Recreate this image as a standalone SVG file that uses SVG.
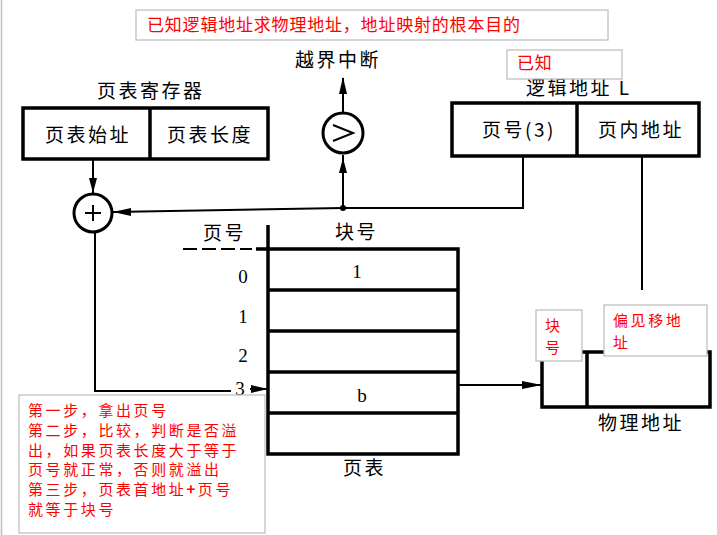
<svg xmlns="http://www.w3.org/2000/svg" width="717" height="535" viewBox="0 0 717 535">
<defs>
<style>
.bg{fill:#fff}
.ln{stroke:#000;stroke-width:2;fill:none}
.thk{stroke:#000;stroke-width:3.5;fill:none}
.box{stroke:#000;stroke-width:3.5;fill:#fff}
.lbl{font-family:"Noto Sans CJK SC","Noto Sans",sans-serif;font-size:19px;fill:#000;letter-spacing:2.5px}
.num{font-family:"Liberation Serif",serif;font-size:19px;fill:#000;text-anchor:middle}
.note{fill:#fff;stroke:#c0c0c0;stroke-width:1.3}
.red{font-family:"Noto Sans CJK SC","Noto Sans",sans-serif;font-size:17px;fill:#f00;letter-spacing:0.8px}
.step{font-family:"Noto Sans CJK SC","Noto Sans",sans-serif;font-size:15px;fill:#f00;letter-spacing:2.6px}
.ah{fill:#000}
</style>
</defs>
<rect class="bg" x="0" y="0" width="717" height="535"/>
<line x1="1.5" y1="0" x2="1.5" y2="535" stroke="#c0c0c0" stroke-width="1.5"/>

<g id="connectors">
  <line class="ln" x1="93" y1="159" x2="93" y2="193"/>
  <polygon class="ah" points="89,178 97,178 93,193"/>
  <polyline class="ln" points="523,156 523,208 343,208 113,212"/>
  <polygon class="ah" points="113,212 131,208 131,216"/>
  <circle cx="343" cy="208" r="3" class="ah"/>
  <line class="ln" x1="343" y1="208" x2="343" y2="155"/>
  <polygon class="ah" points="339,173 347,173 343,158"/>
  <line class="ln" x1="343" y1="112" x2="343" y2="78"/>
  <polygon class="ah" points="339,94 347,94 343,77"/>
  <polyline class="ln" points="95,233 95,391 231,391"/>
  <line class="ln" x1="250" y1="389" x2="268" y2="389"/>
  <polygon class="ah" points="268,389 251,385 251,393"/>
  <line class="ln" x1="458" y1="385" x2="542" y2="385"/>
  <polygon class="ah" points="542,385 522,381 522,389"/>
  <line class="ln" x1="642" y1="156" x2="642" y2="290"/>
</g>

<g id="title-note">
  <rect class="note" x="136" y="10" width="472" height="30"/>
  <text class="red" x="147" y="31">已知逻辑地址求物理地址，地址映射的根本目的</text>
</g>

<g id="page-table-register">
  <text class="lbl" x="97" y="98">页表寄存器</text>
  <rect class="box" x="23" y="108" width="245" height="51"/>
  <line class="thk" x1="150" y1="108" x2="150" y2="159"/>
  <text class="lbl" x="45" y="142">页表始址</text>
  <text class="lbl" x="167" y="142">页表长度</text>
</g>

<g id="adder">
  <circle cx="93" cy="213" r="19" fill="#fff" stroke="#000" stroke-width="3"/>
  <line class="ln" x1="85" y1="213" x2="101" y2="213"/>
  <line class="ln" x1="93" y1="205" x2="93" y2="221"/>
</g>

<g id="comparator">
  <text class="lbl" x="295" y="67">越界中断</text>
  <circle cx="343" cy="133" r="20" fill="#fff" stroke="#000" stroke-width="3"/>
  <polyline class="ln" points="333,125 353,133 333,141" stroke-width="2.5"/>
</g>

<g id="logical-address">
  <text class="lbl" x="526" y="95">逻辑地址 L</text>
  <rect class="box" x="452" y="103" width="247" height="53"/>
  <line class="thk" x1="577" y1="103" x2="577" y2="156"/>
  <text class="lbl" x="482" y="137" letter-spacing="0">页号(3)</text>
  <text class="lbl" x="598" y="137">页内地址</text>
</g>

<g id="known-note">
  <rect class="note" x="507" y="50" width="115" height="29"/>
  <text class="red" x="517" y="69" font-size="16">已知</text>
</g>

<g id="page-table">
  <text class="lbl" x="203" y="240">页号</text>
  <text class="lbl" x="335" y="239" letter-spacing="5">块号</text>
  <line class="ln" x1="183" y1="249" x2="252" y2="249" stroke-dasharray="14,5"/>
  <line class="thk" x1="256" y1="249" x2="268" y2="249"/>
  <line class="thk" x1="268" y1="225" x2="268" y2="250"/>
  <rect class="box" x="268" y="249" width="190" height="205"/>
  <line class="thk" x1="268" y1="290" x2="458" y2="290"/>
  <line class="thk" x1="268" y1="331" x2="458" y2="331"/>
  <line class="thk" x1="268" y1="372" x2="458" y2="372"/>
  <line class="thk" x1="268" y1="413" x2="458" y2="413"/>
  <text class="num" x="357" y="278">1</text>
  <text class="num" x="362" y="402">b</text>
  <text class="num" x="243" y="283">0</text>
  <text class="num" x="243" y="323">1</text>
  <text class="num" x="243" y="362">2</text>
  <text class="num" x="240" y="395">3</text>
  <text class="lbl" x="343" y="475">页表</text>
</g>

<g id="physical-address">
  <rect class="box" x="542" y="352" width="168" height="55"/>
  <line class="thk" x1="587" y1="352" x2="587" y2="407"/>
  <text class="lbl" x="598" y="430">物理地址</text>
</g>

<g id="block-note">
  <rect class="note" x="536" y="310" width="46" height="51"/>
  <text class="step" x="545" y="331">块</text>
  <text class="step" x="545" y="353">号</text>
</g>

<g id="offset-note">
  <rect class="note" x="604" y="305" width="103" height="51"/>
  <text class="step" x="613" y="326">偏见移地</text>
  <text class="step" x="613" y="348">址</text>
</g>

<g id="steps-note">
  <rect class="note" x="19" y="395" width="246" height="138"/>
  <text class="step" x="28" y="416">第一步，拿出页号</text>
  <text class="step" x="28" y="436">第二步，比较，判断是否溢</text>
  <text class="step" x="28" y="456">出，如果页表长度大于等于</text>
  <text class="step" x="28" y="475">页号就正常，否则就溢出</text>
  <text class="step" x="28" y="495">第三步，页表首地址<tspan font-weight="bold">+</tspan>页号</text>
  <text class="step" x="28" y="515">就等于块号</text>
</g>
</svg>
